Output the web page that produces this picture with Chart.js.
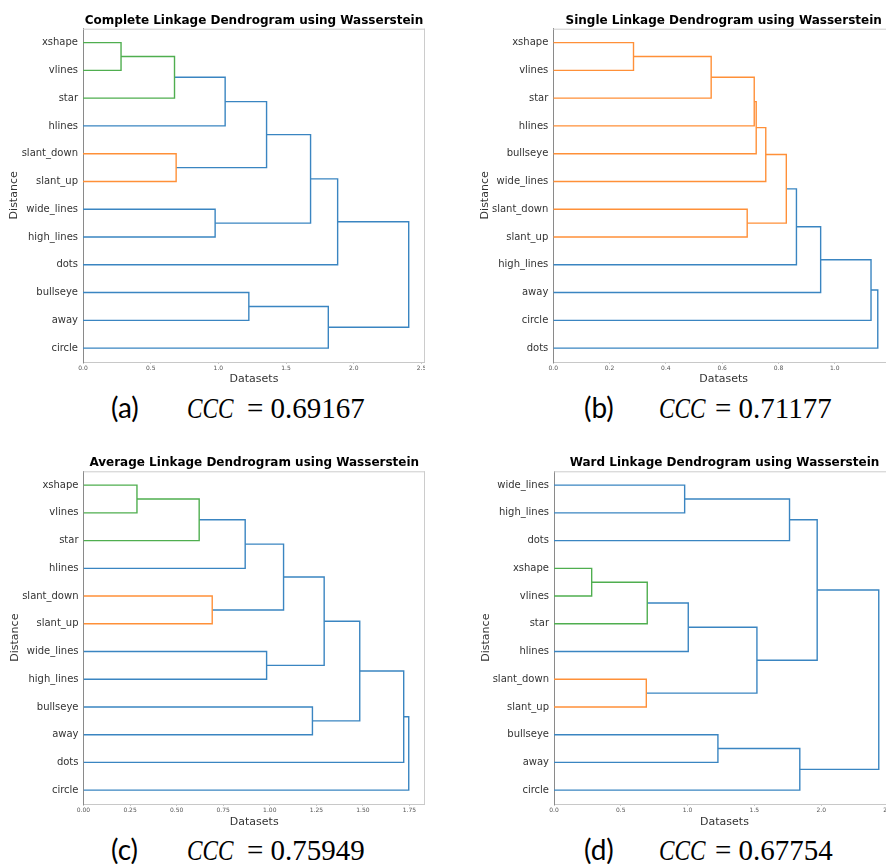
<!DOCTYPE html>
<html>
<head>
<meta charset="utf-8">
<script src="https://cdn.jsdelivr.net/npm/chart.js@4.4.1/dist/chart.umd.min.js"></script>
<style>
  body { margin: 0; width: 886px; height: 864px; overflow: hidden; background: #fff; position: relative; }
  .panel { position: absolute; }
  .cap { position: absolute; white-space: nowrap; font-family: 'Liberation Serif', serif; font-size: 29px; line-height: 29px; color: #000; }
  .cap .lab { display: inline-block; font-family: Lato, sans-serif; font-size: 28px; }
  .cap .ccc { display: inline-block; font-style: italic; transform: scaleX(0.8); transform-origin: left; }
</style>
</head>
<body>
<div class="panel" style="left:0;top:0"><canvas id="chA" width="425" height="390"></canvas></div>
<div class="panel" style="left:443px;top:0"><canvas id="chB" width="451" height="390"></canvas></div>
<div class="panel" style="left:0;top:432px"><canvas id="chC" width="425" height="400"></canvas></div>
<div class="panel" style="left:443px;top:432px"><canvas id="chD" width="452" height="400"></canvas></div>

<div class="cap" style="left:111px;top:393px"><span class="lab" style="width:76px">(a)</span><span class="ccc" style="width:60px">CCC</span>= 0.69167</div>
<div class="cap" style="left:584px;top:393px"><span class="lab" style="width:75px">(b)</span><span class="ccc" style="width:56px">CCC</span>= 0.71177</div>
<div class="cap" style="left:111px;top:835px"><span class="lab" style="width:76px">(c)</span><span class="ccc" style="width:60px">CCC</span>= 0.75949</div>
<div class="cap" style="left:584px;top:835px"><span class="lab" style="width:75px">(d)</span><span class="ccc" style="width:56px">CCC</span>= 0.67754</div>

<script>
// leaf order top to bottom; merges: [child, child, height, colour]
// children: leaf index 0..11, or 12+k for the k-th merge (scipy style)
const leavesA = ['xshape', 'vlines', 'star', 'hlines', 'slant_down', 'slant_up', 'wide_lines', 'high_lines', 'dots', 'bullseye', 'away', 'circle'];
const mergesA = [
  [0, 1, 0.281, 'g'], [12, 2, 0.676, 'g'], [13, 3, 1.050, 'b'], [4, 5, 0.688, 'o'],
  [14, 15, 1.356, 'b'], [6, 7, 0.976, 'b'], [16, 17, 1.681, 'b'], [18, 8, 1.881, 'b'],
  [9, 10, 1.225, 'b'], [20, 11, 1.812, 'b'], [19, 21, 2.406, 'b']
];

const leavesB = ['xshape', 'vlines', 'star', 'hlines', 'bullseye', 'wide_lines', 'slant_down', 'slant_up', 'high_lines', 'away', 'circle', 'dots'];
const mergesB = [
  [0, 1, 0.285, 'o'], [12, 2, 0.561, 'o'], [13, 3, 0.714, 'o'], [14, 4, 0.721, 'o'],
  [15, 5, 0.755, 'o'], [6, 7, 0.689, 'o'], [16, 17, 0.828, 'o'], [18, 8, 0.864, 'b'],
  [19, 9, 0.950, 'b'], [20, 10, 1.129, 'b'], [21, 11, 1.153, 'b']
];

const leavesC = ['xshape', 'vlines', 'star', 'hlines', 'slant_down', 'slant_up', 'wide_lines', 'high_lines', 'bullseye', 'away', 'dots', 'circle'];
const mergesC = [
  [0, 1, 0.287, 'g'], [12, 2, 0.621, 'g'], [13, 3, 0.868, 'b'], [4, 5, 0.691, 'o'],
  [14, 15, 1.074, 'b'], [6, 7, 0.983, 'b'], [16, 17, 1.292, 'b'], [8, 9, 1.229, 'b'],
  [18, 19, 1.483, 'b'], [20, 10, 1.719, 'b'], [21, 11, 1.746, 'b']
];

const leavesD = ['wide_lines', 'high_lines', 'dots', 'xshape', 'vlines', 'star', 'hlines', 'slant_down', 'slant_up', 'bullseye', 'away', 'circle'];
const mergesD = [
  [0, 1, 0.978, 'b'], [12, 2, 1.763, 'b'], [3, 4, 0.282, 'g'], [14, 5, 0.698, 'g'],
  [15, 6, 1.005, 'b'], [7, 8, 0.691, 'o'], [16, 17, 1.519, 'b'], [13, 18, 1.970, 'b'],
  [9, 10, 1.227, 'b'], [20, 11, 1.840, 'b'], [19, 21, 2.431, 'b']
];

const titles = [
  'Complete Linkage Dendrogram using Wasserstein',
  'Single Linkage Dendrogram using Wasserstein',
  'Average Linkage Dendrogram using Wasserstein',
  'Ward Linkage Dendrogram using Wasserstein'
];
const xSteps = [0.5, 0.2, 0.25, 0.5];
const xDecimals = [1, 1, 2, 1];

const colors = { b: '#3a85c1', g: '#4fae4f', o: '#ff9038' };

function buildLinks(leaves, merges) {
  const pos = leaves.map((_, i) => 5 + 10 * i);
  const hgt = leaves.map(() => 0);
  return merges.map(([a, b, h, c]) => {
    const ds = {
      data: [{ x: hgt[a], y: pos[a] }, { x: h, y: pos[a] }, { x: h, y: pos[b] }, { x: hgt[b], y: pos[b] }],
      borderColor: colors[c],
      borderWidth: 1.4,
      showLine: true,
      pointRadius: 0,
      tension: 0
    };
    pos.push((pos[a] + pos[b]) / 2);
    hgt.push(h);
    return ds;
  });
}

const frame = {
  id: 'frame',
  afterDraw(chart) {
    const { ctx, chartArea: a } = chart;
    ctx.save();
    ctx.strokeStyle = '#cccccc';
    ctx.lineWidth = 1;
    ctx.beginPath();
    ctx.moveTo(a.left, a.top + 0.5);
    ctx.lineTo(a.right, a.top + 0.5);
    ctx.moveTo(a.right - 0.5, a.top);
    ctx.lineTo(a.right - 0.5, a.bottom);
    ctx.stroke();
    ctx.restore();
  }
};

function makeChart(id, k, leaves, merges, lay) {
  const top = Math.max(...merges.map(m => m[2]));
  new Chart(document.getElementById(id), {
    type: 'scatter',
    data: { datasets: buildLinks(leaves, merges) },
    options: {
      responsive: false,
      animation: false,
      events: [],
      plugins: {
        legend: { display: false },
        tooltip: { enabled: false },
        title: {
          display: true, text: titles[k], fullSize: false, color: '#000',
          font: { family: 'DejaVu Sans', size: 12, weight: 'bold' },
          padding: { top: lay.titleTop, bottom: lay.titleBottom }
        }
      },
      scales: {
        x: {
          type: 'linear', min: 0, max: top * 1.05,
          border: { display: true, color: '#c8c8c8' },
          grid: { display: true, drawOnChartArea: false, drawTicks: true, tickLength: 2, color: '#c8c8c8' },
          ticks: {
            stepSize: xSteps[k], includeBounds: false, autoSkip: false, maxRotation: 0, padding: 1.2,
            color: '#555', font: { family: 'DejaVu Sans', size: 6 },
            callback: v => Number(v).toFixed(xDecimals[k])
          },
          title: {
            display: true, text: 'Datasets', color: '#333',
            font: { family: 'DejaVu Sans', size: 11 },
            padding: { top: 0, bottom: lay.xTitle }
          },
          afterFit: s => { s.height = lay.xH; s.paddingLeft = 0; s.paddingRight = 0; }
        },
        y: {
          type: 'linear', min: 0, max: 10 * leaves.length, reverse: true,
          border: { display: true, color: '#8a8a8a' },
          grid: { display: false, drawTicks: false },
          afterBuildTicks: s => { s.ticks = leaves.map((_, i) => ({ value: 5 + 10 * i })); },
          ticks: {
            autoSkip: false, padding: 5, color: '#333',
            font: { family: 'DejaVu Sans', size: 10 },
            callback: v => leaves[Math.round((v - 5) / 10)]
          },
          title: {
            display: true, text: 'Distance', color: '#333',
            font: { family: 'DejaVu Sans', size: 11 },
            padding: { top: lay.yTitle, bottom: 0 }
          },
          afterFit: s => { s.width = lay.yW; }
        }
      }
    },
    plugins: [frame]
  });
}

makeChart('chA', 0, leavesA, mergesA, { yW: 83, xH: 28, titleTop: 13.3, titleBottom: 1.0, xTitle: 4.1, yTitle: 7.4 });
makeChart('chB', 1, leavesB, mergesB, { yW: 110.3, xH: 28, titleTop: 13.3, titleBottom: 1.0, xTitle: 4.1, yTitle: 35.1 });
makeChart('chC', 2, leavesC, mergesC, { yW: 83.5, xH: 28, titleTop: 24.1, titleBottom: 0.8, xTitle: 3.4, yTitle: 8.7 });
makeChart('chD', 3, leavesD, mergesD, { yW: 111, xH: 28, titleTop: 24.1, titleBottom: 0.8, xTitle: 3.4, yTitle: 36.1 });
</script>
</body>
</html>
